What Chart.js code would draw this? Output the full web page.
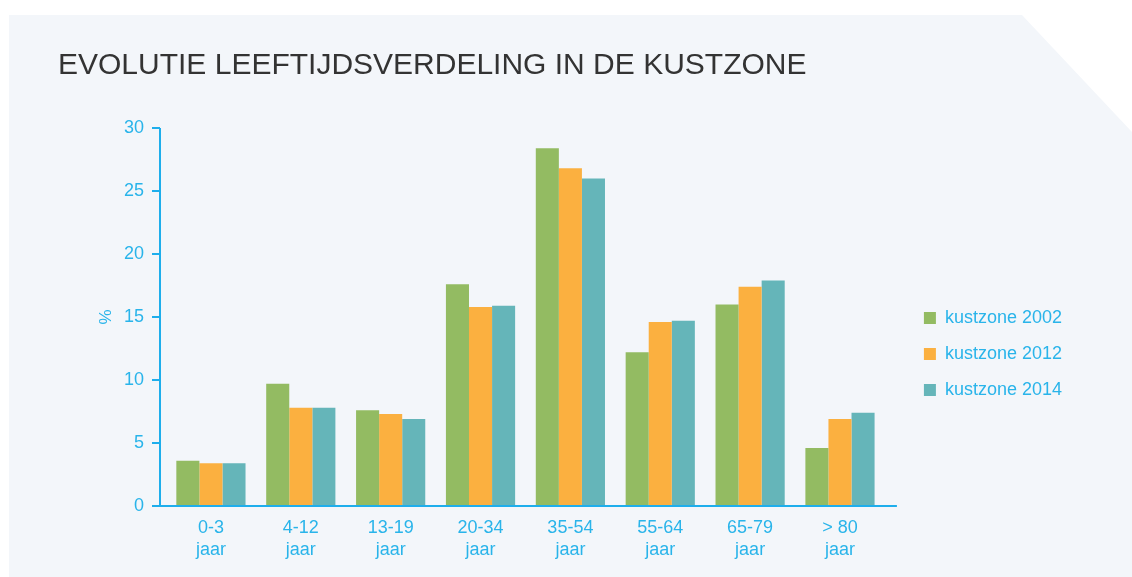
<!DOCTYPE html>
<html>
<head>
<meta charset="utf-8">
<script src="https://cdn.jsdelivr.net/npm/chart.js@4.4.1/dist/chart.umd.min.js"></script>
<style>
  html, body { margin: 0; padding: 0; background: #ffffff; }
  #wrap { position: relative; width: 1132px; height: 577px; overflow: hidden; }
  #panel {
    position: absolute; left: 9px; top: 15px; width: 1123px; height: 562px;
    background: #f3f6fa;
    clip-path: polygon(0 0, 1013px 0, 1123px 117px, 1123px 562px, 0 562px);
  }
  #chart { position: absolute; left: 0; top: 0; }
</style>
</head>
<body>
<div id="wrap">
  <div id="panel"></div>
  <canvas id="chart" width="1132" height="577"></canvas>
</div>
<script>
const ageGroups = [["0-3", "jaar"], ["4-12", "jaar"], ["13-19", "jaar"], ["20-34", "jaar"],
                   ["35-54", "jaar"], ["55-64", "jaar"], ["65-79", "jaar"], ["> 80", "jaar"]];
const kust2002 = [3.6, 9.7, 7.6, 17.6, 28.4, 12.2, 16.0, 4.6];
const kust2012 = [3.4, 7.8, 7.3, 15.8, 26.8, 14.6, 17.4, 6.9];
const kust2014 = [3.4, 7.8, 6.9, 15.9, 26.0, 14.7, 17.9, 7.4];
const seriesNames = ["kustzone 2002", "kustzone 2012", "kustzone 2014"];
const yTicks = [0, 5, 10, 15, 20, 25, 30];

const blue = "#29b4ea";
const axisBlue = "#1eaeec";

// axis lines drawn a little past the chart area, like the original
const axisLines = {
  id: "axisLines",
  afterDatasetsDraw(chart) {
    const { ctx, chartArea } = chart;
    const y = chart.scales.y;
    const x0 = chartArea.left - 6;
    const yBase = y.getPixelForValue(0);
    ctx.save();
    ctx.strokeStyle = axisBlue;
    ctx.lineWidth = 2;
    ctx.beginPath();
    ctx.moveTo(x0, y.getPixelForValue(30));
    ctx.lineTo(x0, yBase);
    ctx.moveTo(x0 - 8, yBase);
    ctx.lineTo(chartArea.right + 12, yBase);
    yTicks.forEach(t => {
      const py = y.getPixelForValue(t);
      ctx.moveTo(x0 - 8, py);
      ctx.lineTo(x0, py);
    });
    ctx.stroke();
    ctx.restore();
  },
  afterLayout(chart) {
    const lg = chart.legend;
    const w = lg.width, h = lg.height;
    lg.left = chart.chartArea.right + 21;
    lg.right = lg.left + w;
    lg.top = 291;
    lg.bottom = lg.top + h;
  }
};

new Chart(document.getElementById("chart"), {
  type: "bar",
  data: {
    labels: ageGroups,
    datasets: [
      { label: seriesNames[0], data: kust2002, backgroundColor: "#93bb62" },
      { label: seriesNames[1], data: kust2012, backgroundColor: "#fbb040" },
      { label: seriesNames[2], data: kust2014, backgroundColor: "#65b5b9" }
    ]
  },
  options: {
    responsive: false,
    animation: false,
    layout: { padding: { left: 58, right: 81, top: 0, bottom: 0 } },
    datasets: { bar: { categoryPercentage: 0.77, barPercentage: 1.0 } },
    plugins: {
      title: {
        display: true,
        text: "EVOLUTIE LEEFTIJDSVERDELING IN DE KUSTZONE",
        align: "start",
        color: "#333333",
        font: { family: "Liberation Sans", size: 30, weight: "normal", lineHeight: 1.2 },
        padding: { top: 48, bottom: 44 }
      },
      legend: {
        position: "right",
        align: "start",
        labels: {
          boxWidth: 12, boxHeight: 12, padding: 18,
          color: blue,
          font: { family: "Liberation Sans", size: 18 }
        }
      },
      tooltip: { enabled: false }
    },
    scales: {
      x: {
        grid: { display: false },
        border: { display: false },
        ticks: {
          color: blue,
          padding: 3,
          font: { family: "Liberation Sans", size: 18, lineHeight: 1.22 }
        },
        afterFit(scale) { scale.height = 71; }
      },
      y: {
        min: 0, max: 30,
        grid: { display: false },
        border: { display: false },
        ticks: {
          stepSize: 5,
          color: blue,
          padding: 14,
          font: { family: "Liberation Sans", size: 18 }
        },
        title: {
          display: true,
          text: "%",
          color: blue,
          padding: { top: 38, bottom: 0 },
          font: { family: "Liberation Sans", size: 17, lineHeight: 1.2 }
        },
        afterFit(scale) { scale.width = 108; }
      }
    }
  },
  plugins: [axisLines]
});
</script>
</body>
</html>
